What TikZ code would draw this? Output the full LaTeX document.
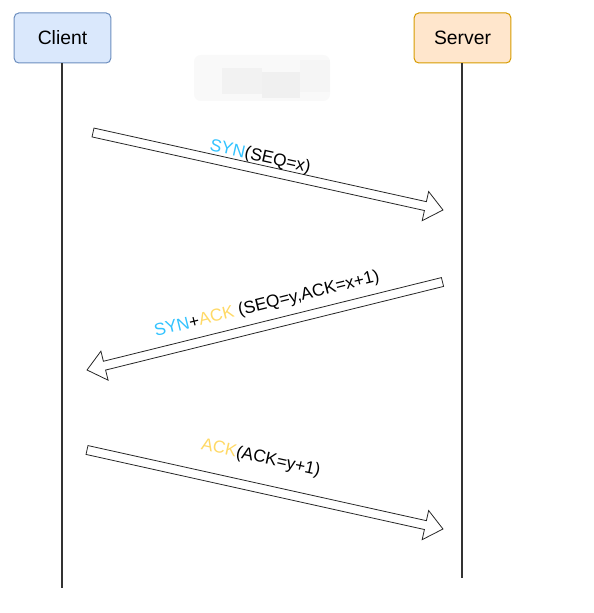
\documentclass[tikz,border=0pt]{standalone}
\usepackage{fontspec}
\setmainfont{Liberation Sans}
\usepackage{xcolor}
\usepackage{tikz}
\usetikzlibrary{calc, positioning}

\definecolor{clientfill}{HTML}{DAE8FC}
\definecolor{clientline}{HTML}{6C8EBF}
\definecolor{serverfill}{HTML}{FFE6CC}
\definecolor{serverline}{HTML}{D79B00}
\definecolor{synblue}{HTML}{33C3FF}
\definecolor{ackyellow}{HTML}{FFD966}

% hollow block arrow from #1 to #2
\newcommand{\flexarrow}[2]{%
  \path let \p1=($(#2)-(#1)$), \n1={atan2(\y1,\x1)}, \n2={veclen(\x1,\y1)} in
    \pgfextra{\xdef\flexang{\n1}\xdef\flexlen{\n2}};
  \begin{scope}[shift={(#1)}, rotate=\flexang]
    \draw[flexbody] (0pt,-3.4pt) -- ({\flexlen-13.5pt},-3.4pt) -- ({\flexlen-13.5pt},-11.2pt)
      -- (\flexlen,0pt) -- ({\flexlen-13.5pt},11.2pt) -- ({\flexlen-13.5pt},3.4pt) -- (0pt,3.4pt) -- cycle;
  \end{scope}}

\begin{document}
\begin{tikzpicture}[x=0.75pt, y=-0.75pt,
            box/.style={draw, rectangle, rounded corners=3.5pt, line width=0.75pt,
              minimum width=72.5pt, minimum height=37.5pt, font=\fontsize{14.5}{17}\selectfont},
            lifeline/.style={line width=1.5pt, black!80},
            flexbody/.style={draw=black!85, fill=white, line width=0.6pt, line join=miter},
            msg/.style={sloped, inner sep=0pt, font=\fontsize{13}{15}\selectfont}]
            \useasboundingbox (0,0) rectangle (593,613);

            % blurred patch
            \fill[gray!5, rounded corners=5pt] (194,55) rectangle (330,101);
            \fill[gray!10] (222,68) rectangle (262,94);
            \fill[gray!12] (262,72) rectangle (300,98);
            \fill[gray!8] (300,60) rectangle (330,92);

            \node[box, fill=clientfill, draw=clientline] (client) at (62.5,38) {Client};
            \node[box, fill=serverfill, draw=serverline] (server) at (462.5,38) {Server};
            \coordinate (clientend) at (62,588);
            \coordinate (serverend) at (462,578);
            \draw[lifeline] (client.south -| clientend) -- (clientend);
            \draw[lifeline] (server.south -| serverend) -- (serverend);

            \coordinate (syn1) at (93,132.5);
            \coordinate (syn2) at (443,210);
            \coordinate (synack1) at (442.5,282);
            \coordinate (synack2) at (87,370);
            \coordinate (ack1) at (87,450);
            \coordinate (ack2) at (443,529);

            \flexarrow{syn1}{syn2}
            \flexarrow{synack1}{synack2}
            \flexarrow{ack1}{ack2}

            \path (syn1) -- (syn2) node[msg, pos=0.47, above=3pt] {\textcolor{synblue}{SYN}(SEQ=x)};
            \path (synack1) -- (synack2) node[msg, pos=0.48, above=9pt] {\textcolor{synblue}{SYN}+\textcolor{ackyellow}{ACK} (SEQ=y,ACK=x+1)};
            \path (ack1) -- (ack2) node[msg, pos=0.47, above=16pt] {\textcolor{ackyellow}{ACK}(ACK=y+1)};
        \end{tikzpicture}
\end{document}
